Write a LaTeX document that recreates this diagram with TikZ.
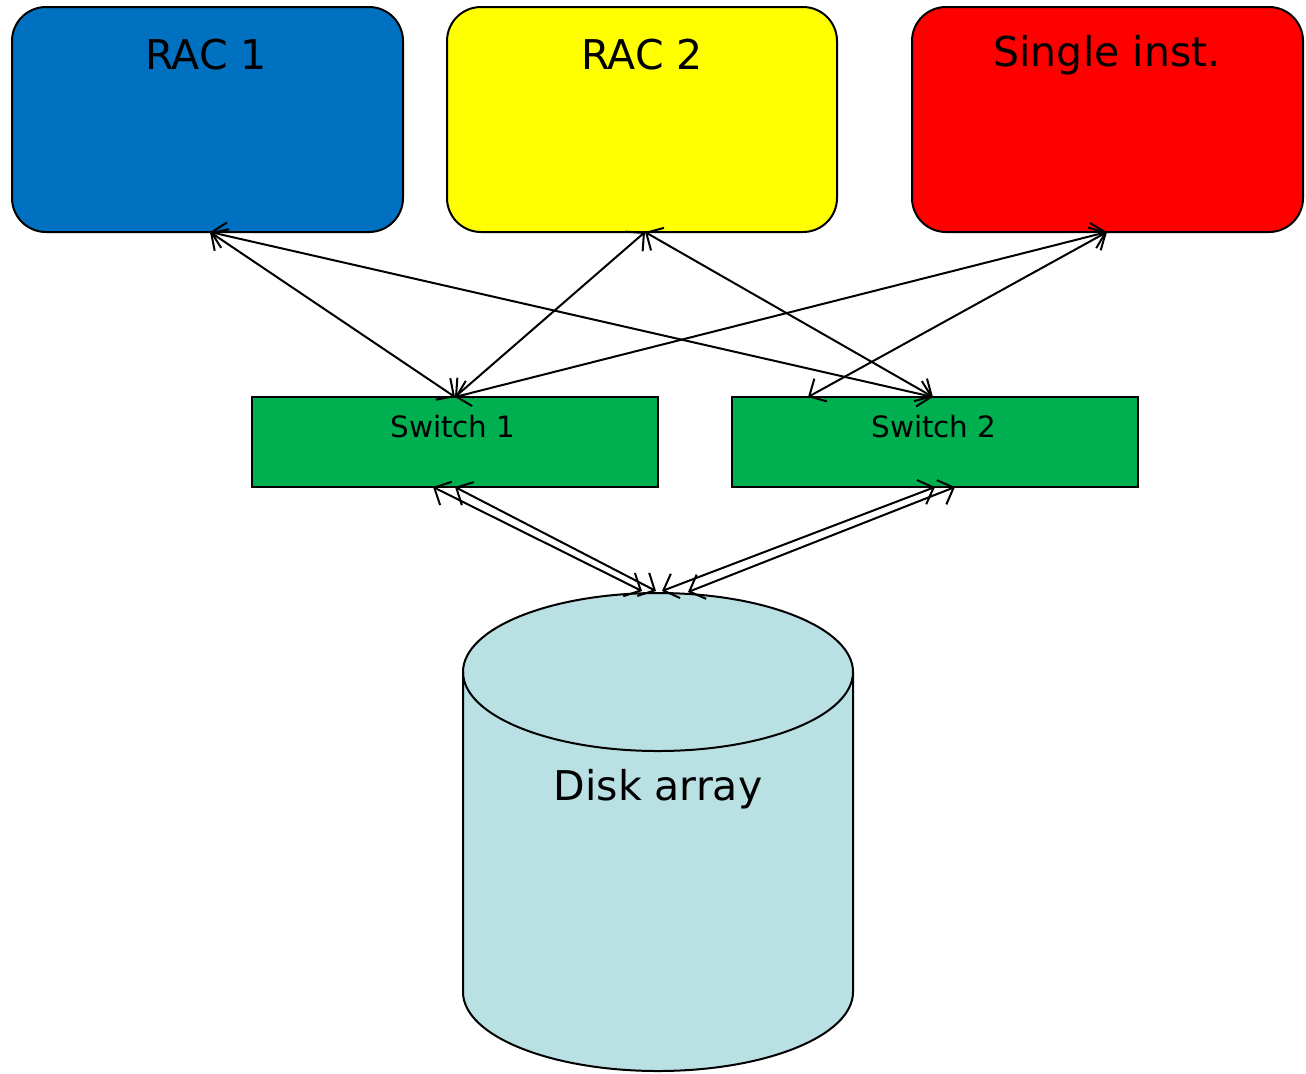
\documentclass[tikz,border=0pt]{standalone}
\usepackage{fontspec}
\setmainfont{DejaVu Sans}
\usetikzlibrary{arrows.meta}
\definecolor{racone}{HTML}{0070C0}
\definecolor{ractwo}{HTML}{FFFF00}
\definecolor{single}{HTML}{FF0000}
\definecolor{switchc}{HTML}{00B050}
\definecolor{diskc}{HTML}{B9E0E3}
\tikzset{
  server/.style={draw=black, line width=1pt, rounded corners=17pt},
  switchbox/.style={draw=black, line width=1pt, fill=switchc},
  bigtext/.style={font=\fontsize{20.5}{24}\selectfont, inner sep=0pt},
  smalltext/.style={font=\fontsize{14.7}{17}\selectfont, inner sep=0pt},
  link/.style={line width=1pt, {Straight Barb[length=6.5pt,width=13pt]}-{Straight Barb[length=6.5pt,width=13pt]}},
}
\begin{document}
\begin{tikzpicture}[x=0.5pt,y=-0.5pt]
\useasboundingbox (0,0) rectangle (1306,1073);
% servers
\draw[server, fill=racone] (12,7) rectangle (403,232);
\draw[server, fill=ractwo] (447,7) rectangle (837,232);
\draw[server, fill=single] (912,7) rectangle (1303,232);
\node[bigtext] (rac1) at (206,55) {RAC 1};
\node[bigtext] (rac2) at (642,55) {RAC 2};
\node[bigtext] (sing) at (1107,55) {Single inst.};
% switches
\draw[switchbox] (252,397) rectangle (658,487);
\draw[switchbox] (732,397) rectangle (1138,487);
\node[smalltext] (sw1) at (453,427) {Switch 1};
\node[smalltext] (sw2) at (934,427) {Switch 2};
% disk
\path[fill=diskc, draw=black, line width=1pt] (463,672) -- (463,992)
  arc[start angle=180, end angle=360, x radius=97.5pt, y radius=39.5pt]
  -- (853,672)
  arc[start angle=0, end angle=180, x radius=97.5pt, y radius=39.5pt] -- cycle;
\draw[line width=1pt] (463,672) arc[start angle=180, end angle=360, x radius=97.5pt, y radius=39.5pt];
\node[bigtext] (disk) at (658,789) {Disk array};
% anchor coordinates
\coordinate (r1b) at (210,232);
\coordinate (r2b) at (645,232);
\coordinate (sib) at (1107,232);
\coordinate (s1t) at (455,397);
\coordinate (s2t) at (933,397);
\coordinate (s2ta) at (808,397);
\coordinate (s1ba) at (433,487);
\coordinate (s1bb) at (455,487);
\coordinate (s2ba) at (935,487);
\coordinate (s2bb) at (955,487);
\coordinate (da) at (642,591);
\coordinate (db) at (656,591);
\coordinate (dc) at (662,591);
\coordinate (dd) at (688,592);
% links
\draw[link] (r1b) -- (s1t);
\draw[link] (r1b) -- (s2t);
\draw[link] (r2b) -- (s1t);
\draw[link] (r2b) -- (s2t);
\draw[link] (sib) -- (s1t);
\draw[link] (sib) -- (s2ta);
\draw[link] (s1ba) -- (da);
\draw[link] (s1bb) -- (db);
\draw[link] (s2ba) -- (dc);
\draw[link] (s2bb) -- (dd);
\end{tikzpicture}
\end{document}
